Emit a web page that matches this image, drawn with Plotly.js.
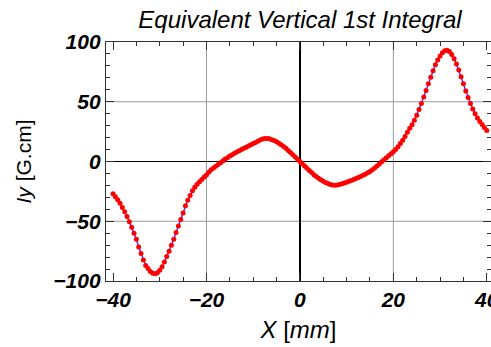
<!DOCTYPE html>
<html>
<head>
<meta charset="utf-8">
<script src="https://cdn.plot.ly/plotly-3.0.1.min.js"></script>
<style>html,body{margin:0;padding:0;background:#fff;}#chart{width:491px;height:347px;}</style>
</head>
<body>
<div id="chart"></div>
<script>
// X positions (mm), 0.5 mm steps
const xNeg = [-40,-39.5,-39,-38.5,-38,-37.5,-37,-36.5,-36,-35.5,-35,-34.5,-34,-33.5,-33,-32.5,-32,-31.5,-31,-30.5,-30,-29.5,-29,-28.5,-28,-27.5,-27,-26.5,-26,-25.5,-25,-24.5,-24,-23.5,-23,-22.5,-22,-21.5,-21,-20.5,-20,-19.5,-19,-18.5,-18,-17.5,-17,-16.5,-16,-15.5,-15,-14.5,-14,-13.5,-13,-12.5,-12,-11.5,-11,-10.5,-10,-9.5,-9,-8.5,-8,-7.5,-7,-6.5,-6,-5.5,-5,-4.5,-4,-3.5,-3,-2.5,-2,-1.5,-1,-0.5];
const iyNeg = [-27,-29.5,-32,-35,-38.5,-42,-46,-50.5,-55,-60,-65,-71.5,-77,-82.5,-87,-89.5,-92,-93.5,-94,-93,-91,-88,-84,-79.5,-75,-70,-65,-59.5,-54,-48.5,-43,-37,-32.5,-28.5,-24.5,-21.5,-19,-17,-15,-13,-11.2,-9,-7,-5.5,-4,-2.5,-1,0.5,2,3.2,4.5,5.7,7,8,9,10,11,12,13,14,15,16,17,18,18.8,19.3,19.3,19,18.3,17.5,16.5,15.3,14,12.5,11,9.3,7.5,5.7,3.8,1.9];
const xPos = [0,0.5,1,1.5,2,2.5,3,3.5,4,4.5,5,5.5,6,6.5,7,7.5,8,8.5,9,9.5,10,10.5,11,11.5,12,12.5,13,13.5,14,14.5,15,15.5,16,16.5,17,17.5,18,18.5,19,19.5,20,20.5,21,21.5,22,22.5,23,23.5,24,24.5,25,25.5,26,26.5,27,27.5,28,28.5,29,29.5,30,30.5,31,31.5,32,32.5,33,33.5,34,34.5,35,35.5,36,36.5,37,37.5,38,38.5,39,39.5,40];
const iyPos = [0,-1.9,-3.8,-5.7,-7.5,-9.3,-11,-12.6,-14,-15.3,-16.5,-17.6,-18.5,-19.2,-19.6,-19.8,-19.6,-19.2,-18.6,-18,-17.3,-16.6,-15.9,-15.1,-14.3,-13.4,-12.5,-11.6,-10.7,-9.5,-8.3,-6.9,-5.4,-3.8,-2,-0.3,1.4,3.1,4.8,6.4,8.1,10,12.3,15,17.8,21,24.5,27.8,30.8,34.5,38.8,43.5,48.5,54,59.5,65,70.5,76,81,85,88.3,91,92.7,93,92,89.5,86,81.5,76.5,71,65,59,53.5,48.5,44,40,36.5,33.5,31,28.5,26];
const xTicks = [-40,-20,0,20,40];
const yTicks = [-100,-50,0,50,100];
const gridX = [-20,20];
const gridY = [-50,50];

const xs = xNeg.concat(xPos);
const ys = iyNeg.concat(iyPos);

const FAM = 'Liberation Sans, Arial, sans-serif';
const tickFont = {family:FAM, size:21, color:'#000'};
const fmt = v => '<b><i>' + (v<0 ? '\u2212' + Math.abs(v) : String(v)) + '</i></b>';

const shapes = [];
gridX.forEach(v => shapes.push({type:'line', xref:'x', yref:'paper', x0:v, x1:v, y0:0, y1:1, line:{color:'#9a9a9a', width:1}, layer:'below'}));
gridY.forEach(v => shapes.push({type:'line', xref:'paper', yref:'y', x0:0, x1:1, y0:v, y1:v, line:{color:'#9a9a9a', width:1}, layer:'below'}));

const traces = [
  {x: xs, y: ys, type:'scatter', mode:'lines', line:{color:'#3b3bff', width:1.5}, hoverinfo:'skip'},
  {x: xs, y: ys, type:'scatter', mode:'markers', marker:{color:'#ff0000', size:5, line:{width:0}}}
];

const layout = {
  width:491, height:347,
  margin:{l:106, r:0, t:42, b:66},
  paper_bgcolor:'#fff', plot_bgcolor:'#fff',
  showlegend:false,
  shapes: shapes,
  title:{text:'<i>Equivalent Vertical 1st Integral</i>', font:{family:FAM, size:24, color:'#000'}, x:300/491, xanchor:'center', xref:'container', y:1-20/347, yref:'container', yanchor:'middle'},
  xaxis:{
    range:[-41.5,40.9], tickvals:xTicks, ticktext:xTicks.map(fmt), tickfont:tickFont, ticklabeloverflow:'allow',
    ticks:'inside', ticklen:8, tickwidth:1, tickcolor:'#333',
    minor:{dtick:5, tick0:0, ticks:'inside', ticklen:4, tickcolor:'#333', showgrid:false},
    showline:true, linecolor:'#333', linewidth:1.2, mirror:'ticks',
    showgrid:false, zeroline:true, zerolinecolor:'#000', zerolinewidth:1.3,
    title:{text:'<i>X</i> [<i>mm</i>]', font:{family:FAM, size:24, color:'#000'}, standoff:10}
  },
  yaxis:{
    range:[-100,100], tickvals:yTicks, ticktext:yTicks.map(fmt), tickfont:tickFont,
    ticks:'inside', ticklen:8, tickwidth:1, tickcolor:'#333',
    minor:{dtick:10, tick0:0, ticks:'inside', ticklen:4, tickcolor:'#333', showgrid:false},
    showline:true, linecolor:'#333', linewidth:1.2, mirror:'ticks',
    showgrid:false, zeroline:true, zerolinecolor:'#000', zerolinewidth:1.3,
    title:{text:'<i>Iy</i> [G.cm]', font:{family:FAM, size:21, color:'#000'}, standoff:16}
  }
};

Plotly.newPlot('chart', traces, layout, {staticPlot:true, displayModeBar:false});
</script>
</body>
</html>
